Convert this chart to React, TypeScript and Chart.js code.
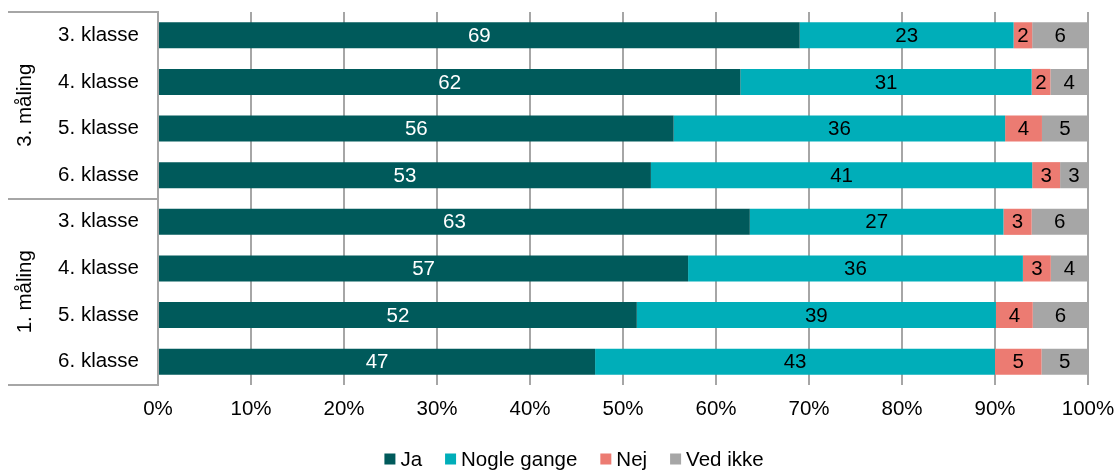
import React, { useEffect, useRef } from "react";
import { Chart, registerables } from "chart.js";

Chart.register(...registerables);

const categories = [
  "3. klasse", "4. klasse", "5. klasse", "6. klasse",
  "3. klasse", "4. klasse", "5. klasse", "6. klasse",
];
const groups = ["3. måling", "1. måling"];
const groupSize = 4;

const ja = [69, 62, 56, 53, 63, 57, 52, 47];
const nogleGange = [23, 31, 36, 41, 27, 36, 39, 43];
const nej = [2, 2, 4, 3, 3, 3, 4, 5];
const vedIkke = [6, 4, 5, 3, 6, 4, 6, 5];

const seriesNames = ["Ja", "Nogle gange", "Nej", "Ved ikke"];
const seriesColors = ["#005A5B", "#00AEB9", "#EC7B72", "#A6A6A6"];
const labelColors = ["#FFFFFF", "#000000", "#000000", "#000000"];

const FONT = "'Liberation Sans', Arial, sans-serif";
const FS = 20.5;
const GRID = "#A6A6A6";

const allSeries = [ja, nogleGange, nej, vedIkke];
const totals = categories.map((_, i) => allSeries.reduce((s, arr) => s + arr[i], 0));

const dataLabelPlugin = {
  id: "dataLabels",
  afterDatasetsDraw(chart: any) {
    const ctx = chart.ctx;
    ctx.save();
    ctx.font = `${FS}px ${FONT}`;
    ctx.textAlign = "center";
    ctx.textBaseline = "middle";
    chart.data.datasets.forEach((ds: any, di: number) => {
      const meta = chart.getDatasetMeta(di);
      meta.data.forEach((bar: any, i: number) => {
        const raw = allSeries[di][i];
        const { x, base, y } = bar.getProps(["x", "base", "y"], true);
        ctx.fillStyle = labelColors[di];
        ctx.fillText(String(raw), (x + base) / 2, y + 1);
      });
    });
    ctx.restore();
  },
};

const groupAxisPlugin = {
  id: "groupAxis",
  afterDraw(chart: any) {
    const ctx = chart.ctx;
    const area = chart.chartArea;
    const n = categories.length;
    const rowH = (area.bottom - area.top) / n;
    ctx.save();
    ctx.strokeStyle = GRID;
    ctx.lineWidth = 2;
    const left = 8;
    for (let g = 0; g <= groups.length; g++) {
      const yy = Math.round(area.top + g * groupSize * rowH);
      ctx.beginPath();
      ctx.moveTo(left, yy);
      ctx.lineTo(area.left, yy);
      ctx.stroke();
    }
    ctx.font = `${FS}px ${FONT}`;
    ctx.fillStyle = "#000000";
    ctx.textAlign = "center";
    ctx.textBaseline = "middle";
    groups.forEach((g, gi) => {
      const cy = area.top + (gi * groupSize + groupSize / 2) * rowH;
      ctx.save();
      ctx.translate(25, cy);
      ctx.rotate(-Math.PI / 2);
      ctx.fillText(g, 0, 0);
      ctx.restore();
    });
    ctx.restore();
  },
};

const customLegendPlugin = {
  id: "customLegend",
  afterDraw(chart: any) {
    const ctx = chart.ctx;
    const box = 11;
    const gap = 5;
    const spacing = 23;
    const cy = 459;
    const centerX = chart.width / 2 + 15;
    ctx.save();
    ctx.font = `${FS}px ${FONT}`;
    ctx.textBaseline = "middle";
    ctx.textAlign = "left";
    const widths = seriesNames.map((s) => ctx.measureText(s).width);
    const total = widths.reduce((a, w) => a + box + gap + w, 0) + spacing * (seriesNames.length - 1);
    let x = centerX - total / 2;
    seriesNames.forEach((s, i) => {
      ctx.fillStyle = seriesColors[i];
      ctx.fillRect(x, cy - box / 2, box, box);
      ctx.fillStyle = "#000000";
      ctx.fillText(s, x + box + gap, cy + 1);
      x += box + gap + widths[i] + spacing;
    });
    ctx.restore();
  },
};

export default function App() {
  const ref = useRef<HTMLCanvasElement>(null);
  useEffect(() => {
    if (!ref.current) return;
    const chart = new Chart(ref.current, {
      type: "bar",
      data: {
        labels: categories,
        datasets: allSeries.map((arr, di) => ({
          label: seriesNames[di],
          data: arr.map((v, i) => (v / totals[i]) * 100),
          backgroundColor: seriesColors[di],
          borderWidth: 0,
          barPercentage: 0.56,
          categoryPercentage: 1,
        })),
      },
      options: {
        indexAxis: "y",
        animation: false,
        responsive: false,
        maintainAspectRatio: false,
        layout: { padding: { left: 0, right: 30, top: 12, bottom: 37 } },
        scales: {
          x: {
            stacked: true,
            min: 0,
            max: 100,
            grid: { color: GRID, lineWidth: 2, drawTicks: false },
            border: { display: false },
            ticks: {
              stepSize: 10,
              padding: 12,
              color: "#000000",
              font: { family: FONT, size: FS },
              callback: (v: any) => `${v}%`,
            },
            afterFit: (s: any) => {
              s.height = 48;
              s.paddingLeft = 0;
              s.paddingRight = 0;
            },
          },
          y: {
            stacked: true,
            grid: { display: false, drawTicks: false },
            border: { display: true, color: GRID, width: 2 },
            ticks: {
              padding: 19,
              color: "#000000",
              font: { family: FONT, size: FS },
            },
            afterFit: (s: any) => {
              s.width = 158;
              s.paddingTop = 0;
              s.paddingBottom = 0;
            },
          },
        },
        plugins: {
          legend: { display: false },
          tooltip: { enabled: false },
        },
      },
      plugins: [dataLabelPlugin, groupAxisPlugin, customLegendPlugin],
    });
    return () => chart.destroy();
  }, []);
  return (
    <div style={{ position: "fixed", left: 0, top: 0, width: 1118, height: 470, background: "#fff" }}>
      <canvas ref={ref} width={1118} height={470} style={{ width: 1118, height: 470 }} />
    </div>
  );
}
